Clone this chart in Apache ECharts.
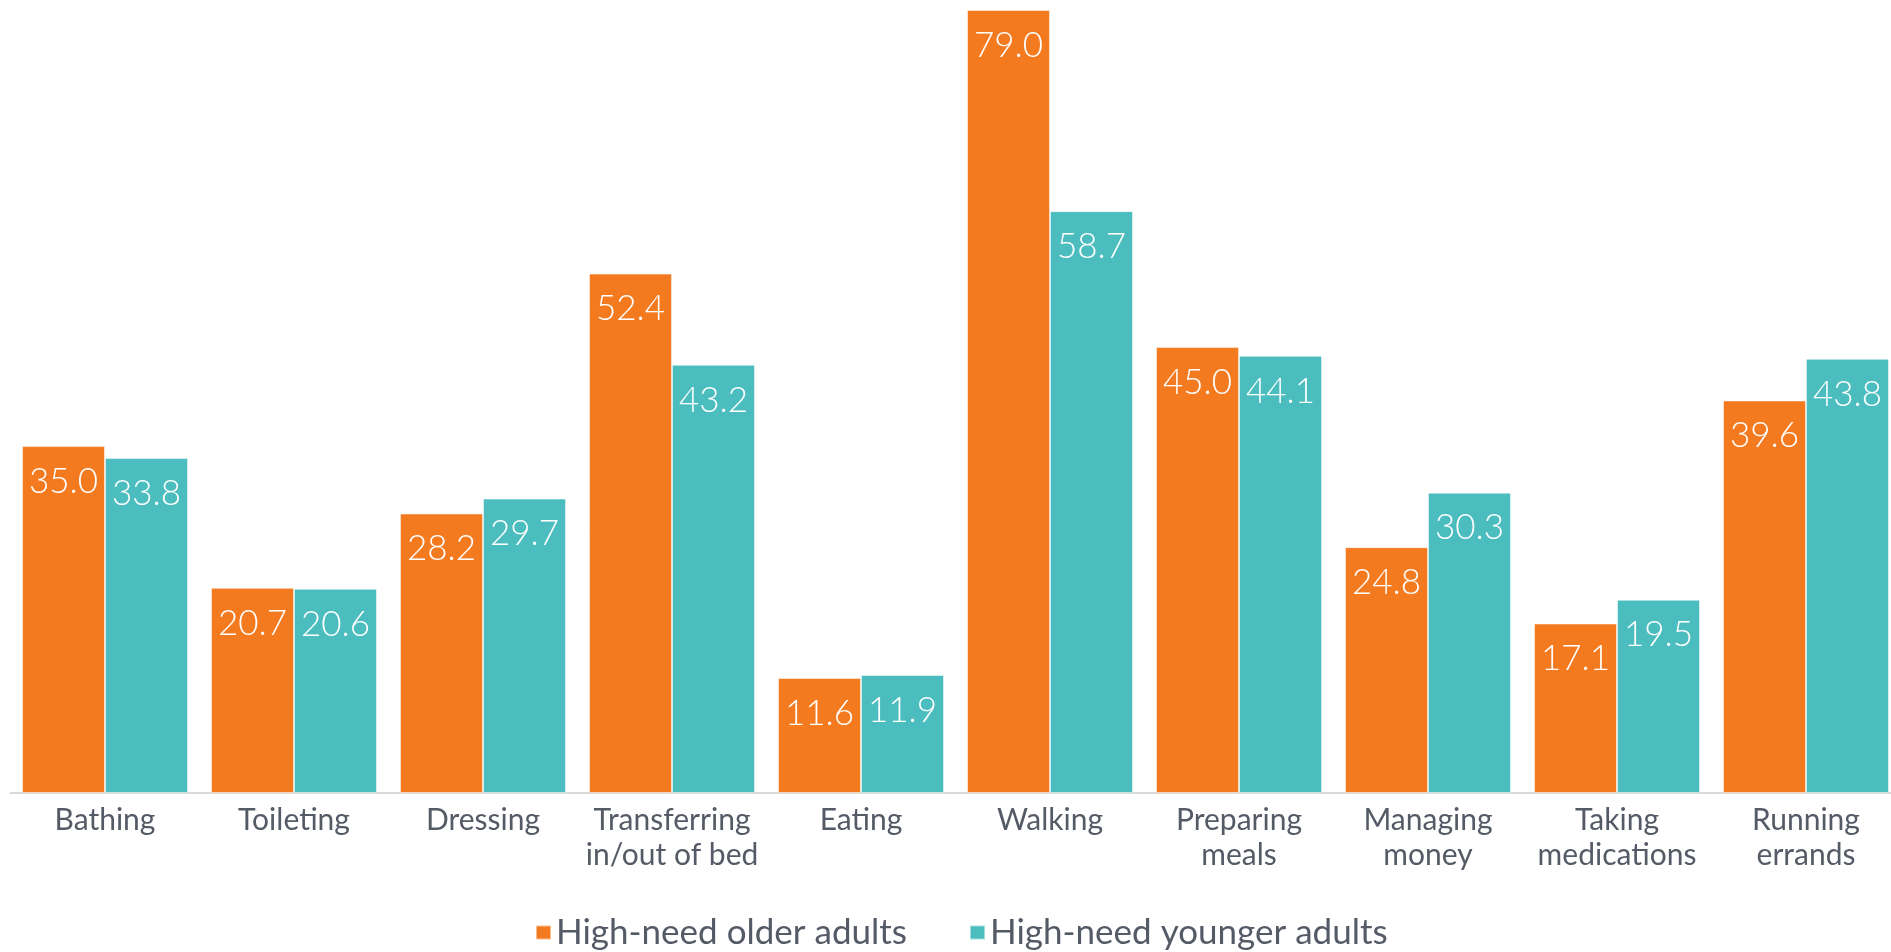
<!DOCTYPE html>
<html>
<head>
<meta charset="utf-8">
<script src="https://cdn.jsdelivr.net/npm/echarts@6/dist/echarts.min.js"></script>
<style>
html,body{margin:0;padding:0;background:#fff;}
#chart{width:1891px;height:952px;}
</style>
</head>
<body>
<div id="chart"></div>
<script>
const categories = ['Bathing','Toileting','Dressing','Transferring\nin/out of bed','Eating','Walking','Preparing\nmeals','Managing\nmoney','Taking\nmedications','Running\nerrands'];
const seriesNames = ['High-need older adults','High-need younger adults'];
const olderAdults = [35.0, 20.7, 28.2, 52.4, 11.6, 79.0, 45.0, 24.8, 17.1, 39.6];
const youngerAdults = [33.8, 20.6, 29.7, 43.2, 11.9, 58.7, 44.1, 30.3, 19.5, 43.8];
const colors = ['#F47A20', '#4BBDBE'];

const chart = echarts.init(document.getElementById('chart'), null, {renderer:'canvas'});
const labelCfg = {
  show: true,
  position: 'insideTop',
  distance: 18,
  color: '#ffffff',
  fontFamily: 'Lato',
  fontWeight: 300,
  fontSize: 35,
  formatter: p => p.value.toFixed(1)
};
chart.setOption({
  animation: false,
  color: colors,
  textStyle: {fontFamily: 'Lato'},
  grid: {left: 10.5, top: 0, width: 1890, height: 793, containLabel: false, outerBoundsMode: 'none'},
  legend: {
    data: seriesNames,
    bottom: -3,
    left: 530,
    itemWidth: 15,
    itemHeight: 14,
    itemGap: 62,
    icon: 'rect',
    textStyle: {fontFamily: 'Lato', fontSize: 35, color: '#555b66'}
  },
  xAxis: {
    type: 'category',
    data: categories,
    axisLine: {show: true, lineStyle: {color: '#d9d9d9', width: 2}},
    axisTick: {show: false},
    axisLabel: {fontFamily: 'Lato', fontSize: 30, color: '#555b66', lineHeight: 35, margin: 10, interval: 0}
  },
  yAxis: {
    type: 'value',
    min: 0,
    max: 80,
    show: false,
    splitLine: {show: false}
  },
  series: [
    {name: seriesNames[0], type: 'bar', data: olderAdults, barWidth: 83, barGap: '0%',
     itemStyle: {color: colors[0], borderColor: 'rgba(255,255,255,0.5)', borderWidth: 1}, label: labelCfg},
    {name: seriesNames[1], type: 'bar', data: youngerAdults, barWidth: 83, barGap: '0%',
     itemStyle: {color: colors[1], borderColor: 'rgba(255,255,255,0.5)', borderWidth: 1}, label: labelCfg}
  ]
});
</script>
</body>
</html>
